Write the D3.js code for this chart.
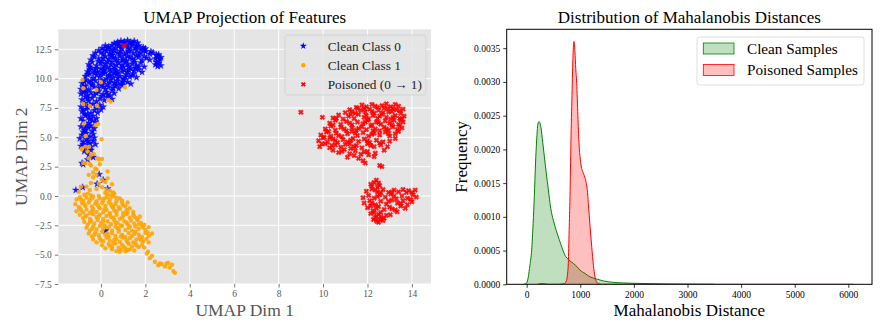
<!DOCTYPE html>
<html>
<head>
<meta charset="utf-8">
<script src="https://cdn.jsdelivr.net/npm/d3@7"></script>
<style>
  body { margin: 0; background: #fff; }
  svg { display: block; font-family: "Liberation Serif", "DejaVu Serif", serif; }
</style>
</head>
<body>
<svg id="chart" width="885" height="333"></svg>
<script>
// ---- data ----
var cleanClass0 = [
  [0.6,13.0],[0.75,13.1],[0.9,13.2],[1.05,13.15],[1.2,13.25],[1.35,13.1],[1.5,13.2],[1.65,13.05],[0.8,13.0],[1.3,13.0],
  [0.05,12.6],[0.2,12.8],[0.35,12.7],[0.5,12.85],[0.65,12.6],[0.8,12.75],[0.95,12.55],[1.2,12.7],[1.4,12.85],[1.55,12.6],[1.7,12.8],[1.9,12.65],[0.45,12.5],[1.1,12.9],[1.8,12.5],[2.0,12.55],
  [-0.25,12.2],[-0.1,12.4],[0.1,12.1],[0.25,12.35],[0.4,12.15],[0.6,12.4],[0.75,12.2],[0.9,12.35],[1.05,12.05],[1.25,12.3],[1.45,12.15],[1.6,12.4],[1.8,12.2],[2.0,12.3],[2.2,12.1],[2.35,12.2],[2.5,12.0],[0.5,12.0],[1.35,12.45],[2.6,12.05],
  [-0.45,11.6],[-0.3,11.85],[-0.1,11.7],[0.05,11.5],[0.2,11.9],[0.35,11.65],[0.55,11.8],[0.7,11.55],[0.85,11.9],[1.0,11.7],[1.15,11.5],[1.3,11.8],[1.5,11.6],[1.7,11.85],[1.85,11.55],[2.05,11.75],[2.45,11.7],[2.6,11.5],[2.7,11.8],[2.55,11.9],
  [-0.55,11.2],[-0.4,11.4],[-0.2,11.1],[0.0,11.3],[0.15,11.05],[0.3,11.45],[0.45,11.2],[0.6,11.0],[0.8,11.35],[0.95,11.15],[1.1,11.4],[1.25,11.0],[1.4,11.25],[1.6,11.1],[1.8,11.35],[1.95,11.0],[2.45,11.2],[2.6,11.3],[2.7,11.1],[2.55,11.05],
  [-0.6,10.6],[-0.45,10.9],[-0.3,10.7],[-0.15,10.55],[0.0,10.85],[0.15,10.65],[0.3,10.95],[0.45,10.6],[0.6,10.8],[0.75,10.5],[0.9,10.9],[1.05,10.7],[1.2,10.55],[1.35,10.85],[1.5,10.65],[1.7,10.75],[1.85,10.55],[0.2,10.5],
  [-0.7,10.2],[-0.5,10.4],[-0.35,10.05],[-0.2,10.3],[-0.05,10.15],[0.1,10.45],[0.25,10.0],[0.4,10.3],[0.55,10.1],[0.7,10.4],[0.85,10.2],[1.0,10.0],[1.15,10.35],[1.3,10.15],[1.45,10.4],[1.6,10.1],[0.6,10.45],
  [-0.85,9.6],[-0.7,9.9],[-0.55,9.7],[-0.4,9.55],[-0.25,9.85],[-0.1,9.6],[0.15,9.75],[0.3,9.5],[0.45,9.9],[0.6,9.65],[0.75,9.8],[0.9,9.55],[1.05,9.9],[1.2,9.7],[1.35,9.55],
  [-0.9,9.1],[-0.7,9.35],[-0.55,9.05],[-0.4,9.4],[-0.1,9.2],[0.05,9.45],[0.2,9.1],[0.35,9.3],[0.5,9.0],[0.65,9.4],[0.8,9.15],[0.95,9.45],
  [-0.9,8.7],[-0.75,8.95],[-0.6,8.55],[-0.45,8.8],[-0.3,8.6],[-0.1,8.9],[0.1,8.65],[0.25,8.85],[0.4,8.55],[0.6,8.75],[-0.65,8.85],
  [-0.85,8.2],[-0.7,8.45],[-0.55,8.1],[-0.4,8.35],[-0.2,8.05],[-0.05,8.3],[0.15,8.15],[0.3,8.4],[0.5,8.25],
  [-0.9,7.6],[-0.75,7.9],[-0.6,7.55],[-0.35,7.85],[-0.2,7.5],[-0.05,7.75],[0.1,7.6],
  [-0.85,7.2],[-0.65,7.4],[-0.45,7.05],[-0.3,7.3],[-0.15,7.1],[0.0,7.35],[-0.75,7.0],
  [-0.9,6.6],[-0.7,6.85],[-0.5,6.55],[-0.35,6.8],[-0.2,6.6],[-0.6,6.95],
  [-0.8,6.4],[-0.55,6.2],[-0.4,6.45],[-0.25,6.3],[-0.65,6.05],
  [-0.9,5.9],[-0.75,5.6],[-0.55,5.8],[-0.4,5.5],[-0.3,5.75],[-0.85,5.2],[-0.65,5.35],[-0.5,5.05],[-0.35,5.25],[-0.8,5.45],
  [-0.95,4.9],[-0.8,4.6],[-0.65,4.85],[-0.5,4.5],[-0.35,4.7],[-0.25,4.4],[-0.9,4.25],[-0.7,4.1],[-0.45,4.2],[-0.6,4.35],[-0.3,4.95],
  [-0.75,3.8],[-0.55,3.5],[-0.45,3.9],[-0.35,3.3],[-0.6,3.1],
  [-0.85,2.8],[-0.8,2.7],[-0.08,1.84],[0.1,1.36],[-0.17,1.02],[0.3,0.62],[-1.13,0.5],[-0.82,0.74],[0.21,-2.96],
  [0.7,12.95],[1.0,13.05],[1.45,13.0],[0.3,12.6],[0.9,12.7],[1.6,12.75],[1.25,12.55],[0.15,12.45],[0.0,12.2],[0.55,12.25],[0.85,12.1],
  [1.15,12.2],[1.7,12.05],[1.95,12.45],[2.25,12.3],[-0.35,11.95],[0.1,11.75],[0.45,11.95],[0.65,11.7],[0.95,11.55],[1.2,11.9],[1.4,11.7],
  [1.6,11.95],[1.95,11.9],[2.2,11.6],[2.65,11.65],[-0.5,11.0],[-0.1,11.45],[0.2,11.25],[0.5,11.4],[0.7,11.15],[1.0,11.0],[1.2,11.2],
  [1.5,11.4],[1.7,11.0],[2.5,11.4],[-0.5,10.75],[-0.2,10.85],[0.1,10.75],[0.4,10.8],[0.7,10.65],[0.95,10.6],[1.25,10.75],[1.55,10.9],
  [-0.6,10.35],[-0.3,10.5],[0.0,10.4],[0.35,10.2],[0.75,10.05],[1.1,10.15],[1.4,10.25],[-0.75,9.75],[-0.45,9.8],[0.05,9.85],[0.4,9.65],
  [0.7,9.5],[1.0,9.7],[-0.8,9.3],[-0.3,9.3],[0.1,9.3],[0.55,9.2],[-0.8,8.8],[-0.2,8.75],[0.3,8.65],[-0.6,8.3],[0.05,8.5],[-0.5,7.75],
  [-0.8,7.35],[-0.55,6.7],[-0.45,6.0],[-0.7,5.75],[-0.6,4.7],[-0.8,4.4]
];

var cleanClass1 = [
  [-0.8,9.18],[-0.83,9.89],[0.0,9.69],[-0.2,9.03],[1.08,9.26],[0.33,8.18],[0.44,8.04],[-0.8,7.84],[-0.5,7.67],[-0.17,7.67],[-0.75,6.19],
  [-0.23,6.05],[-0.12,6.14],[-0.68,5.11],[0.03,4.83],[-0.87,3.98],[-0.53,4.2],[-0.32,3.58],[-0.08,3.13],[-0.8,2.8],[-0.5,2.73],[-0.2,2.27],
  [-0.85,4.05],[-0.7,4.2],[-0.6,3.8],[-0.45,3.5],[-0.55,3.2],[-0.15,3.2],[0.05,3.15],[-0.7,2.8],[-0.45,2.6],[-0.25,2.35],[-0.35,2.0],
  [-0.55,1.8],[-0.35,1.6],[-0.2,1.8],[0.05,1.35],[-0.1,1.05],[0.2,1.2],[-0.45,1.1],[-0.65,0.8],[-0.5,0.5],[-0.2,0.6],[0.05,0.75],
  [0.25,0.55],[0.4,0.45],[0.55,0.3],[-0.9,0.8],[-1.0,0.35],[-0.75,0.1],[-0.45,0.05],[-0.1,0.0],[0.2,0.25],[0.45,0.05],[0.5,1.0],[0.3,1.5],[-0.05,2.7],[0.3,2.1],
  [-1.1,-0.3],[-0.95,-0.1],[-0.8,-0.4],[-0.65,-0.15],[-0.5,-0.35],[-0.35,-0.05],[-0.2,-0.45],[-0.05,-0.2],[0.1,-0.4],[0.25,-0.1],[0.4,-0.3],[0.55,-0.05],[0.7,-0.45],[0.85,-0.2],[0.95,-0.4],[0.3,0.15],[0.6,0.2],[-0.6,0.2],
  [-1.15,-0.7],[-1.0,-0.95],[-0.85,-0.6],[-0.7,-0.85],[-0.55,-0.55],[-0.4,-0.9],[-0.25,-0.65],[-0.1,-0.95],[0.05,-0.6],[0.2,-0.85],[0.35,-0.55],[0.5,-0.9],[0.65,-0.7],[0.8,-0.95],[0.95,-0.6],[1.1,-0.85],[1.2,-0.55],
  [-1.1,-1.3],[-0.95,-1.05],[-0.8,-1.4],[-0.65,-1.15],[-0.5,-1.45],[-0.35,-1.1],[-0.2,-1.35],[-0.05,-1.05],[0.1,-1.4],[0.25,-1.2],[0.4,-1.45],[0.55,-1.0],[0.7,-1.3],[0.85,-1.1],[1.0,-1.45],[1.15,-1.2],[1.3,-1.05],[1.45,-1.35],
  [-0.95,-1.6],[-0.8,-1.9],[-0.65,-1.65],[-0.5,-1.95],[-0.35,-1.55],[-0.2,-1.8],[-0.05,-1.6],[0.1,-1.95],[0.25,-1.7],[0.4,-1.55],[0.55,-1.85],[0.7,-1.6],[0.85,-1.95],[1.0,-1.7],[1.15,-1.55],[1.3,-1.85],[1.45,-1.6],[1.6,-1.9],[1.75,-1.75],
  [-0.75,-2.2],[-0.6,-2.45],[-0.45,-2.1],[-0.3,-2.35],[-0.15,-2.05],[0.0,-2.3],[0.15,-2.5],[0.3,-2.15],[0.45,-2.4],[0.6,-2.05],[0.75,-2.3],[0.9,-2.5],[1.05,-2.15],[1.2,-2.4],[1.35,-2.1],[1.5,-2.35],[1.65,-2.05],[1.8,-2.3],[1.95,-2.45],
  [-0.65,-2.7],[-0.5,-2.95],[-0.35,-2.6],[-0.2,-2.85],[-0.05,-2.55],[0.1,-2.8],[0.35,-2.65],[0.5,-2.95],[0.65,-2.6],[0.8,-2.85],[0.95,-2.55],[1.1,-2.9],[1.25,-2.7],[1.4,-2.95],[1.55,-2.6],[1.7,-2.8],[1.85,-2.55],[2.0,-2.9],[2.15,-2.65],
  [-0.55,-3.2],[-0.4,-3.45],[-0.25,-3.1],[-0.1,-3.35],[0.05,-3.05],[0.2,-3.3],[0.35,-3.5],[0.5,-3.15],[0.65,-3.4],[0.8,-3.05],[0.95,-3.3],[1.1,-3.5],[1.25,-3.15],[1.4,-3.4],[1.55,-3.05],[1.7,-3.3],[1.85,-3.5],[2.0,-3.15],[2.15,-3.4],[2.3,-3.2],
  [-0.35,-3.7],[-0.2,-3.95],[-0.05,-3.6],[0.1,-3.85],[0.25,-3.55],[0.4,-3.8],[0.55,-4.0],[0.7,-3.65],[0.85,-3.9],[1.0,-3.55],[1.15,-3.8],[1.3,-3.6],[1.45,-3.95],[1.6,-3.7],[1.75,-3.55],[1.9,-3.85],[2.05,-3.65],[2.15,-3.95],
  [0.05,-4.2],[0.2,-4.45],[0.35,-4.1],[0.5,-4.35],[0.65,-4.05],[0.8,-4.4],[0.95,-4.15],[1.1,-4.45],[1.25,-4.1],[1.4,-4.3],[1.55,-4.05],[1.7,-4.35],[1.85,-4.15],[1.95,-4.4],
  [0.5,-4.55],[0.7,-4.7],[0.9,-4.6],[1.1,-4.7],[1.3,-4.55],[1.5,-4.65],[0.85,-4.75],
  [2.06,-4.9],[2.12,-4.75],[2.2,-5.3],[2.3,-5.1],[2.43,-5.6],[2.58,-5.9],[2.73,-5.8],[2.88,-6.0],[3.03,-5.7],[3.1,-6.1],[3.2,-5.85],[3.26,-6.4],[3.33,-6.55],[2.95,-5.75],[2.65,-5.75],
  [-0.9,-0.3],[-0.4,-0.2],[0.15,-0.2],[0.7,-0.15],[-0.75,-0.7],[-0.15,-0.75],[0.45,-0.7],[1.0,-0.8],[-0.9,-1.2],[-0.4,-1.25],[0.15,-1.15],
  [0.6,-1.25],[1.2,-1.4],[-0.7,-1.75],[-0.1,-1.75],[0.45,-1.8],[0.95,-1.85],[1.5,-1.75],[-0.5,-2.25],[0.1,-2.15],[0.65,-2.25],[1.15,-2.25],
  [1.7,-2.4],[-0.4,-2.8],[0.2,-2.65],[0.75,-2.75],[1.3,-2.6],[1.9,-2.7],[-0.3,-3.3],[0.3,-3.2],[0.9,-3.45],[1.5,-3.25],[2.1,-3.1],[0.0,-3.8],
  [0.6,-3.75],[1.2,-3.95],[1.8,-3.75],[0.4,-4.25],[1.0,-4.3],[1.6,-4.2],[1.2,-4.6]
];

var poisoned = [
  [1.05,12.8],[9.0,7.13],
  [11.5,7.55],[11.75,7.75],[11.95,7.6],[12.2,7.8],[12.45,7.55],[12.65,7.7],[12.85,7.85],[13.05,7.6],[13.25,7.8],[13.4,7.65],
  [11.0,7.1],[11.2,7.35],[11.45,7.05],[11.7,7.3],[11.9,7.15],[12.1,7.4],[12.3,7.05],[12.5,7.3],[12.7,7.1],[12.9,7.45],[13.1,7.2],[13.3,7.35],[13.5,7.05],[13.6,7.4],[11.55,7.45],
  [10.45,6.65],[10.7,6.9],[10.9,6.55],[11.15,6.8],[11.4,6.6],[11.6,6.95],[11.85,6.7],[12.05,6.55],[12.25,6.85],[12.45,6.6],[12.65,6.95],[12.85,6.7],[13.05,6.55],[13.25,6.85],[13.45,6.6],[13.65,6.8],[9.97,6.7],
  [10.3,6.2],[10.55,6.45],[10.8,6.1],[11.05,6.35],[11.3,6.05],[11.55,6.3],[11.8,6.15],[12.0,6.45],[12.2,6.05],[12.4,6.3],[12.6,6.1],[12.8,6.4],[13.0,6.2],[13.2,6.45],[13.4,6.1],[13.6,6.3],
  [10.1,5.7],[10.35,5.95],[10.55,5.6],[10.8,5.85],[11.05,5.55],[11.3,5.8],[11.5,5.6],[11.75,5.9],[11.95,5.65],[12.15,5.95],[12.35,5.7],[12.55,5.55],[12.75,5.85],[12.95,5.6],[13.15,5.9],[13.35,5.65],[13.55,5.8],
  [9.9,5.2],[10.15,5.45],[10.35,5.1],[10.6,5.35],[10.85,5.05],[11.1,5.3],[11.3,5.5],[11.55,5.15],[11.8,5.4],[12.05,5.1],[12.3,5.35],[12.55,5.2],[12.8,5.45],[13.0,5.1],[13.25,5.3],[13.4,5.5],
  [9.8,4.7],[10.0,4.95],[10.2,4.6],[10.45,4.85],[10.65,4.55],[10.9,4.8],[11.1,4.6],[11.35,4.9],[11.6,4.65],[11.85,4.85],[12.1,4.55],[12.4,4.75],[12.7,4.6],[13.0,4.66],[13.25,4.9],[10.3,4.95],
  [9.85,4.2],[10.1,4.45],[10.3,4.1],[10.55,4.35],[10.8,4.15],[11.0,4.4],[11.25,4.05],[11.5,4.3],[11.75,4.1],[12.0,4.45],[12.3,4.2],[12.6,4.35],[12.9,4.2],[11.2,4.45],
  [10.45,3.9],[10.7,3.7],[10.95,3.95],[11.2,3.6],[11.45,3.85],[11.7,3.55],[12.0,3.8],[12.35,3.65],[12.75,3.9],
  [11.1,3.3],[11.4,3.45],[11.6,3.2],[12.3,3.35],[12.05,3.5],[11.8,3.0],[11.9,2.8],[12.55,2.6],[12.65,2.5],
  [11.85,7.45],[12.35,7.65],[12.75,7.5],[13.15,7.45],[11.3,7.2],[12.2,7.2],[12.95,7.15],[13.45,7.25],[10.6,6.6],[11.25,6.95],[11.95,6.85],
  [12.55,6.8],[13.15,6.7],[13.55,6.55],[10.45,6.05],[11.2,6.2],[11.9,6.3],[12.5,6.25],[13.1,6.05],[13.5,6.45],[10.25,5.5],[10.95,5.7],
  [11.6,5.75],[12.25,5.55],[12.85,5.7],[13.45,5.95],[10.05,5.0],[10.7,5.15],[11.45,5.35],[12.2,5.25],[12.95,5.3],[9.95,4.45],[10.55,4.7],
  [11.25,4.75],[12.0,4.7],[12.55,4.5],[10.4,4.3],[11.4,4.2],[12.15,4.3],[10.85,3.8],[11.85,3.75],
  [12.2,0.8],[12.4,1.35],[12.5,1.1],[12.3,1.15],[12.55,0.9],[12.15,1.0],[12.45,0.75],
  [11.95,0.4],[12.2,0.6],[12.45,0.35],[12.7,0.55],[12.95,0.3],[13.2,0.5],[13.4,0.35],[13.6,0.55],[13.85,0.45],[14.0,0.3],[14.15,0.5],[12.6,0.25],
  [11.8,-0.15],[12.05,0.05],[12.3,-0.2],[12.55,0.1],[12.8,-0.1],[13.05,0.15],[13.3,-0.25],[13.55,0.0],[13.8,-0.2],[14.05,0.1],[14.2,-0.1],
  [11.85,-0.6],[12.1,-0.4],[12.35,-0.75],[12.6,-0.45],[12.85,-0.7],[13.1,-0.35],[13.35,-0.6],[13.6,-0.4],[13.8,-0.74],[14.0,-0.5],
  [12.0,-1.0],[12.25,-1.25],[12.5,-0.9],[12.75,-1.15],[13.0,-0.95],[13.25,-1.2],[13.5,-0.85],[13.7,-1.05],[12.15,-0.85],
  [12.15,-1.5],[12.4,-1.75],[12.6,-1.4],[12.85,-1.65],[13.03,-1.6],[13.33,-1.35],[12.3,-1.4],
  [12.27,-2.0],[12.42,-2.16],[12.58,-2.0],[12.5,-2.25],[12.75,-1.9],[12.35,-1.85],
  [12.35,0.5],[13.1,0.35],[13.75,0.3],[12.45,-0.05],[13.2,0.0],[13.95,-0.3],[12.2,-0.6],[12.95,-0.45],[13.5,-0.65],[12.4,-1.05],
  [13.1,-1.1],[12.5,-1.55],[12.7,-2.1],[12.6,-1.8]
];

var umapXTicks = [0, 2, 4, 6, 8, 10, 12, 14];
var umapYTicks = [-7.5, -5, -2.5, 0, 2.5, 5, 7.5, 10, 12.5];
var scatterLegend = ['Clean Class 0', 'Clean Class 1', 'Poisoned (0 \u2192 1)'];

// density curves: [distance, density]
var cleanDensity = [
  [-60,0],[0,0.00002],[30,0.00011],[60,0.00028],[93,0.00051],[120,0.0009],[142,0.0013],[165,0.0018],[186,0.00214],[205,0.00235],
  [224,0.00241],[245,0.0024],[267,0.00232],[300,0.0021],[330,0.00189],[365,0.00165],[404,0.0014],[450,0.00112],[497,0.00095],
  [550,0.0008],[609,0.00066],[660,0.00054],[715,0.00043],[790,0.00036],[870,0.00031],[940,0.00026],[995,0.00021],[1090,0.00016],
  [1181,0.00011],[1300,0.00008],[1430,0.00005],[1600,0.00003],[1800,0.00002],[2000,0.000015],[2300,0.00001],[2600,0.000005],
  [3000,0.000002],[3500,0]
];
var poisonedDensity = [
  [200,0],[300,0.00001],[400,0],[600,0],[700,0.00001],[740,0.00005],[757,0.00012],[776,0.00031],[792,0.0008],[808,0.0013],[825,0.0021],
  [845,0.0028],[865,0.0034],[882,0.0036],[900,0.00345],[915,0.0032],[933,0.00298],[955,0.0025],[975,0.0021],[995,0.00189],
  [1020,0.00174],[1045,0.00167],[1075,0.00161],[1106,0.00152],[1130,0.0014],[1150,0.0012],[1180,0.00088],[1213,0.00056],
  [1245,0.00028],[1274,0.00011],[1300,0.00004],[1340,0.00001],[1400,0],[2000,0],[6100,0]
];
var distTicks = [0, 1000, 2000, 3000, 4000, 5000, 6000];
var freqTicks = [0, 0.0005, 0.001, 0.0015, 0.002, 0.0025, 0.003, 0.0035];
var kdeLegend = ['Clean Samples', 'Poisoned Samples'];

var serif = '"Liberation Serif", "Times New Roman", serif';
var svg = d3.select('#chart');

// ================= left: UMAP scatter =================
var L = {x0: 58.3, x1: 431, y0: 29.3, y1: 284};
var xUmap = d3.scaleLinear().domain([-1.92, 14.86]).range([L.x0, L.x1]);
var yUmap = d3.scaleLinear().domain([-7.5, 14.2]).range([L.y1, L.y0]);

svg.append('rect')
  .attr('x', L.x0).attr('y', L.y0)
  .attr('width', L.x1 - L.x0).attr('height', L.y1 - L.y0)
  .style('fill', '#e5e5e5');

// grid
svg.append('g').selectAll('line').data(umapXTicks).enter().append('line')
  .attr('x1', d => xUmap(d)).attr('x2', d => xUmap(d))
  .attr('y1', L.y0).attr('y2', L.y1)
  .style('stroke', '#fff').style('stroke-width', 1);
svg.append('g').selectAll('line').data(umapYTicks).enter().append('line')
  .attr('x1', L.x0).attr('x2', L.x1)
  .attr('y1', d => yUmap(d)).attr('y2', d => yUmap(d))
  .style('stroke', '#fff').style('stroke-width', 1);

var xAxisL = svg.append('g')
  .attr('transform', 'translate(0,' + L.y1 + ')')
  .call(d3.axisBottom(xUmap).tickValues(umapXTicks).tickFormat(d3.format('d')).tickSize(3.5).tickPadding(3));
var yAxisL = svg.append('g')
  .attr('transform', 'translate(' + L.x0 + ',0)')
  .call(d3.axisLeft(yUmap).tickValues(umapYTicks).tickFormat(d3.format('.1f')).tickSize(3.5).tickPadding(3));
[xAxisL, yAxisL].forEach(function(a) {
  a.attr('font-family', serif).attr('font-size', 9.5);
  a.select('.domain').remove();
  a.selectAll('line').style('stroke', '#555').style('stroke-width', 0.8);
  a.selectAll('text').style('fill', '#555');
});

svg.append('defs').append('clipPath').attr('id', 'clipL')
  .append('rect').attr('x', L.x0).attr('y', L.y0).attr('width', L.x1 - L.x0).attr('height', L.y1 - L.y0);

var pts = svg.append('g').attr('clip-path', 'url(#clipL)');
var starSym = d3.symbol().type(d3.symbolStar).size(15);
var circleSym = d3.symbol().type(d3.symbolCircle).size(15);
var xSym = d3.symbol().type(d3.symbolCross).size(15);

pts.selectAll('.c0').data(cleanClass0).enter().append('path')
  .attr('class', 'c0')
  .attr('d', starSym)
  .attr('transform', d => 'translate(' + xUmap(d[0]) + ',' + yUmap(d[1]) + ')')
  .style('fill', '#0000ff').style('stroke', '#0000ff').style('stroke-width', 0.4).style('opacity', 0.9);
pts.selectAll('.c1').data(cleanClass1).enter().append('path')
  .attr('class', 'c1')
  .attr('d', circleSym)
  .attr('transform', d => 'translate(' + xUmap(d[0]) + ',' + yUmap(d[1]) + ')')
  .style('fill', '#ffa500').style('opacity', 0.9);
pts.selectAll('.p').data(poisoned).enter().append('path')
  .attr('class', 'p')
  .attr('d', xSym)
  .attr('transform', d => 'translate(' + xUmap(d[0]) + ',' + yUmap(d[1]) + ') rotate(45)')
  .style('fill', '#ff0000').style('stroke', '#ff0000').style('stroke-width', 0.5).style('opacity', 0.9);

// legend
var legL = svg.append('g');
legL.append('rect')
  .attr('x', 285).attr('y', 35).attr('width', 141).attr('height', 60).attr('rx', 2.5)
  .style('fill', '#e5e5e5').style('fill-opacity', 0.85).style('stroke', '#cfcfcf').style('stroke-width', 0.8);
var legSyms = [starSym, circleSym, xSym];
var legColors = ['#0000ff', '#ffa500', '#ff0000'];
scatterLegend.forEach(function(t, i) {
  var cy = 46 + i * 19.2;
  legL.append('path').attr('d', legSyms[i])
    .attr('transform', 'translate(303.3,' + cy + ')' + (i === 2 ? ' rotate(45)' : ''))
    .style('fill', legColors[i]);
  legL.append('text').attr('x', 327.7).attr('y', cy + 4.5)
    .style('font-size', '13.3px').style('fill', '#222').text(t);
});

svg.append('text').attr('x', (L.x0 + L.x1) / 2).attr('y', 23.3)
  .attr('text-anchor', 'middle').style('font-size', '17px').style('fill', '#000')
  .text('UMAP Projection of Features');
svg.append('text').attr('x', (L.x0 + L.x1) / 2).attr('y', 316)
  .attr('text-anchor', 'middle').style('font-size', '17.5px').style('fill', '#555')
  .text('UMAP Dim 1');
svg.append('text').attr('transform', 'translate(26.5,' + (L.y0 + L.y1) / 2 + ') rotate(-90)')
  .attr('text-anchor', 'middle').style('font-size', '17.5px').style('fill', '#555')
  .text('UMAP Dim 2');

// ================= right: density =================
var R = {x0: 506.7, x1: 872, y0: 29.3, y1: 284.3};
var xDist = d3.scaleLinear().domain([-373, 6442]).range([R.x0, R.x1]);
var yFreq = d3.scaleLinear().domain([0, 0.00378]).range([R.y1, R.y0]);

svg.append('defs').append('clipPath').attr('id', 'clipR')
  .append('rect').attr('x', R.x0).attr('y', R.y0).attr('width', R.x1 - R.x0).attr('height', R.y1 - R.y0);

var area = d3.area().x(d => xDist(d[0])).y0(yFreq(0)).y1(d => yFreq(d[1])).curve(d3.curveMonotoneX);
var line = d3.line().x(d => xDist(d[0])).y(d => yFreq(d[1])).curve(d3.curveMonotoneX);

var kde = svg.append('g').attr('clip-path', 'url(#clipR)');
[[cleanDensity, '#008000'], [poisonedDensity, '#ff0000']].forEach(function(s) {
  kde.append('path').datum(s[0]).attr('d', area)
    .style('fill', s[1]).style('fill-opacity', 0.25).style('stroke', 'none');
  kde.append('path').datum(s[0]).attr('d', line)
    .style('fill', 'none').style('stroke', s[1]).style('stroke-width', 1);
});

var xAxisR = svg.append('g')
  .attr('transform', 'translate(0,' + R.y1 + ')')
  .call(d3.axisBottom(xDist).tickValues(distTicks).tickFormat(d3.format('d')).tickSize(3.5).tickPadding(3));
var yAxisR = svg.append('g')
  .attr('transform', 'translate(' + R.x0 + ',0)')
  .call(d3.axisLeft(yFreq).tickValues(freqTicks).tickFormat(d3.format('.4f')).tickSize(3.5).tickPadding(3));
[xAxisR, yAxisR].forEach(function(a) {
  a.attr('font-family', serif).attr('font-size', 9.5);
  a.select('.domain').remove();
  a.selectAll('line').style('stroke', '#000').style('stroke-width', 0.8);
  a.selectAll('text').style('fill', '#000');
});

svg.append('rect')
  .attr('x', R.x0).attr('y', R.y0).attr('width', R.x1 - R.x0).attr('height', R.y1 - R.y0)
  .style('fill', 'none').style('stroke', '#000').style('stroke-width', 1);

// legend
var legR = svg.append('g');
legR.append('rect')
  .attr('x', 697).attr('y', 37).attr('width', 167).attr('height', 48).attr('rx', 2.5)
  .style('fill', '#fff').style('fill-opacity', 0.85).style('stroke', '#d5d5d5').style('stroke-width', 0.8);
var kdeColors = ['#008000', '#ff0000'];
kdeLegend.forEach(function(t, i) {
  var cy = 48.5 + i * 21.5;
  legR.append('rect').attr('x', 703.3).attr('y', cy - 5.5).attr('width', 30.7).attr('height', 11)
    .style('fill', kdeColors[i]).style('fill-opacity', 0.25).style('stroke', kdeColors[i]).style('stroke-width', 0.8);
  legR.append('text').attr('x', 747).attr('y', cy + 5.2)
    .style('font-size', '15.2px').style('fill', '#000').text(t);
});

svg.append('text').attr('x', (R.x0 + R.x1) / 2).attr('y', 23.3)
  .attr('text-anchor', 'middle').style('font-size', '17px').style('fill', '#000')
  .text('Distribution of Mahalanobis Distances');
svg.append('text').attr('x', (R.x0 + R.x1) / 2).attr('y', 316)
  .attr('text-anchor', 'middle').style('font-size', '17px').style('fill', '#000')
  .text('Mahalanobis Distance');
svg.append('text').attr('transform', 'translate(466.5,' + (R.y0 + R.y1) / 2 + ') rotate(-90)')
  .attr('text-anchor', 'middle').style('font-size', '17px').style('fill', '#000')
  .text('Frequency');
</script>
</body>
</html>
